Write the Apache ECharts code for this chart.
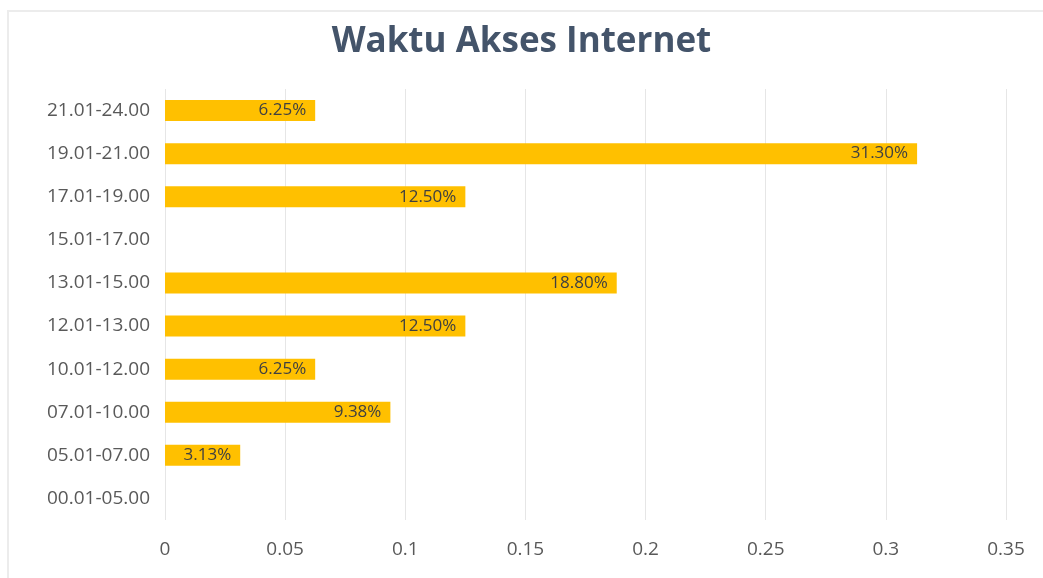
<!DOCTYPE html>
<html>
<head>
<meta charset="utf-8">
<script src="https://cdn.jsdelivr.net/npm/echarts@6/dist/echarts.min.js"></script>
<style>html,body{margin:0;padding:0;background:#fff}#c{width:1043px;height:578px}</style>
</head>
<body>
<div id="c"></div>
<script>
const categories = ['00.01-05.00','05.01-07.00','07.01-10.00','10.01-12.00','12.01-13.00','13.01-15.00','15.01-17.00','17.01-19.00','19.01-21.00','21.01-24.00'];
const values = [0, 0.0313, 0.0938, 0.0625, 0.125, 0.188, 0, 0.125, 0.313, 0.0625];
const xTicks = [0, 0.05, 0.1, 0.15, 0.2, 0.25, 0.3, 0.35];

const chart = echarts.init(document.getElementById('c'));
chart.setOption({
  animation: false,
  backgroundColor: '#fff',
  graphic: [{
    type: 'rect',
    silent: true,
    shape: { x: 8, y: 11, width: 1100, height: 700 },
    style: { fill: 'none', stroke: '#ececec', lineWidth: 2 }
  }],
  title: {
    text: 'Waktu Akses Internet',
    left: 'center',
    top: 20,
    textStyle: { fontFamily: 'Open Sans', fontSize: 35, fontWeight: 'bold', color: '#44546a' }
  },
  grid: { left: 165, right: 37, top: 89, bottom: 58 },
  xAxis: {
    type: 'value',
    min: xTicks[0],
    max: xTicks[xTicks.length - 1],
    interval: 0.05,
    axisLine: { show: false },
    axisTick: { show: false },
    splitLine: { lineStyle: { color: '#e6e6e6', width: 1 } },
    axisLabel: { color: '#595959', fontFamily: 'Open Sans', fontSize: 19, margin: 20,
      formatter: v => String(+v.toFixed(2)) }
  },
  yAxis: {
    type: 'category',
    data: categories,
    axisLine: { show: false },
    axisTick: { show: false },
    axisLabel: { color: '#595959', fontFamily: 'Open Sans', fontSize: 19, margin: 15 }
  },
  series: [{
    type: 'bar',
    data: values,
    barWidth: 21,
    itemStyle: { color: '#ffc000' },
    label: {
      show: true,
      position: 'insideRight',
      distance: 9,
      color: '#404040',
      fontFamily: 'Open Sans',
      fontSize: 17,
      formatter: p => p.value > 0 ? (p.value * 100).toFixed(2) + '%' : ''
    }
  }]
});
</script>
</body>
</html>
